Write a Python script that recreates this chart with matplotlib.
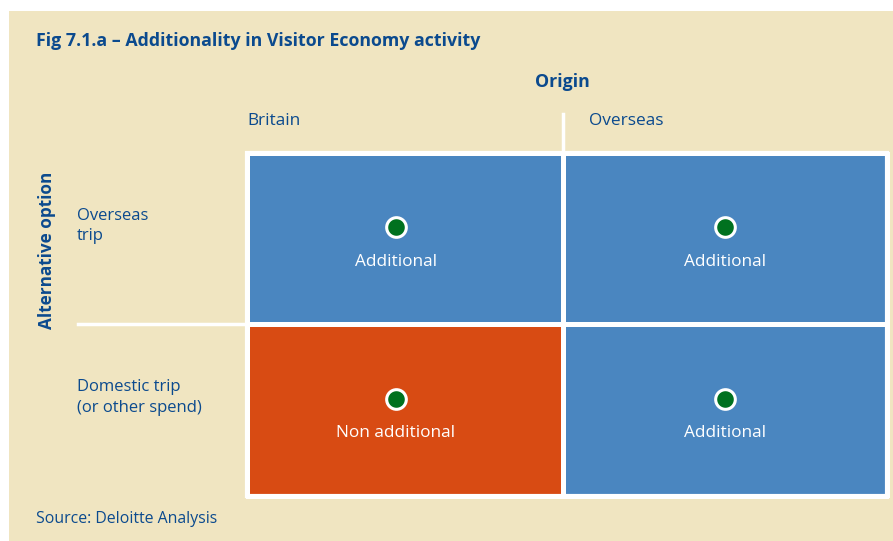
import matplotlib.pyplot as plt
from matplotlib.colors import ListedColormap
from matplotlib.patches import Rectangle
import numpy as np

# data
origins = ['Britain', 'Overseas']
alternatives = ['Overseas\ntrip', 'Domestic trip\n(or other spend)']
# 1 = additional, 0 = non additional (rows: alternative option, cols: origin)
additional = np.array([[1, 1],
                       [0, 1]])
status_labels = {1: 'Additional', 0: 'Non additional'}

W, H = 893, 541
beige = '#F0E5C1'
navy = '#0B4A8E'
blue = '#4A86C0'
orange = '#D84B13'
green = '#00711F'

plt.rcParams['font.family'] = ['Open Sans', 'DejaVu Sans']

fig = plt.figure(figsize=(W / 100, H / 100), dpi=100, facecolor='white')

# whole figure in pixel coords
ax = fig.add_axes([0, 0, 1, 1])
ax.set_xlim(0, W)
ax.set_ylim(H, 0)
ax.axis('off')
ax.add_patch(Rectangle((9, 11), W - 9, H - 11, facecolor=beige, edgecolor='none'))

ax.text(36, 41, 'Fig 7.1.a \u2013 Additionality in Visitor Economy activity',
        color=navy, fontsize=12.8, fontweight='bold', va='center', ha='left')
ax.text(562, 82, 'Origin', color=navy, fontsize=12.8, fontweight='bold',
        va='center', ha='center')
ax.text(47, 250, 'Alternative option', color=navy, fontsize=12.3,
        fontweight='bold', rotation=90, va='center', ha='center')
ax.text(36, 519, 'Source: Deloitte Analysis', color=navy, fontsize=11.4,
        va='center', ha='left')

# grid layout (pixel edges of the 2x2 matrix)
col_edges = np.array([247, 563, 887])
row_edges = np.array([153, 324, 496])

# column headers
for x, name in zip([col_edges[0], col_edges[1] + 26], origins):
    ax.text(x, 121, name, color=navy, fontsize=12.4, va='center', ha='left')
# row headers
for r, name in enumerate(alternatives):
    y = (row_edges[r] + row_edges[r + 1]) / 2 - 12.5
    ax.text(77, y, name, color=navy, fontsize=12, va='center', ha='left',
            linespacing=1.35)

cmap = ListedColormap([orange, blue])
ax.pcolormesh(col_edges, row_edges, additional, cmap=cmap, vmin=0, vmax=1,
              edgecolors='white', linewidth=2.5)
ax.add_patch(Rectangle((col_edges[0], row_edges[0]), col_edges[-1] - col_edges[0],
                       row_edges[-1] - row_edges[0], fill=False,
                       edgecolor='white', lw=3))

# divider lines extending into the header areas
ax.plot([78, col_edges[0]], [row_edges[1], row_edges[1]], color='white', lw=2.5)
ax.plot([col_edges[1], col_edges[1]], [114, row_edges[0]], color='white', lw=2.5)

for r in range(additional.shape[0]):
    for c in range(additional.shape[1]):
        cw = col_edges[c + 1] - col_edges[c]
        ch = row_edges[r + 1] - row_edges[r]
        cx = col_edges[c] + (0.47 if c == 0 else 0.5) * cw
        ax.scatter(cx, row_edges[r] + 0.435 * ch, s=200, color=green,
                   edgecolor='white', linewidth=2.2, zorder=3)
        ax.text(cx, row_edges[r] + 0.635 * ch, status_labels[additional[r, c]],
                color='white', fontsize=12.4, ha='center', va='center')

fig.savefig('out.png', dpi=100, facecolor='white')
